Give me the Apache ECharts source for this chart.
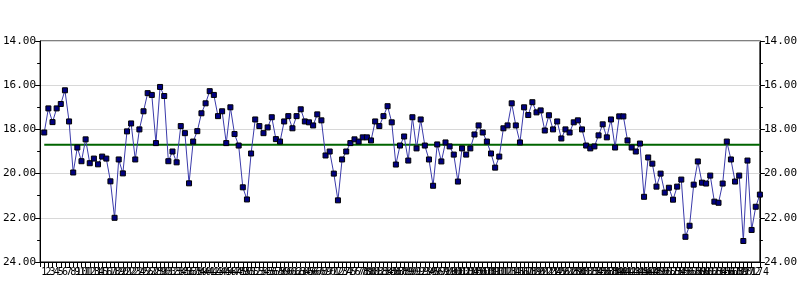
<!DOCTYPE html>
<html>
<head>
<meta charset="utf-8">
<script src="https://cdn.jsdelivr.net/npm/echarts@6/dist/echarts.min.js"></script>
<style>html,body{margin:0;padding:0;background:#fff}#c{width:800px;height:300px}</style>
</head>
<body>
<div id="c"></div>
<script>
const values = [
18.14,17.05,17.67,17.05,16.85,16.23,17.64,19.95,18.82,19.44,
18.45,19.53,19.32,19.58,19.23,19.32,20.35,22.0,19.36,19.99,
18.09,17.73,19.36,18.0,17.18,16.36,16.44,18.62,16.08,16.49,
19.44,19.0,19.49,17.85,18.17,20.44,18.55,18.08,17.27,16.82,
16.27,16.44,17.4,17.18,18.62,17.0,18.21,18.73,20.62,21.17,
19.09,17.55,17.85,18.17,17.91,17.45,18.44,18.55,17.64,17.4,
17.95,17.4,17.09,17.64,17.68,17.82,17.32,17.59,19.18,19.0,
20.0,21.21,19.36,19.0,18.62,18.45,18.55,18.36,18.36,18.5,
17.64,17.85,17.4,16.95,17.68,19.59,18.73,18.32,19.41,17.45,
18.86,17.55,18.73,19.36,20.55,18.68,19.45,18.59,18.77,19.14,
20.36,18.86,19.14,18.86,18.23,17.82,18.14,18.55,19.09,19.73,
19.23,17.95,17.82,16.82,17.82,18.59,17.0,17.35,16.77,17.23,
17.14,18.05,17.36,18.0,17.64,18.41,18.0,18.14,17.68,17.59,
18.0,18.73,18.86,18.77,18.27,17.77,18.36,17.55,18.82,17.41,
17.41,18.5,18.82,19.0,18.64,21.05,19.27,19.55,20.59,20.0,
20.86,20.64,21.18,20.59,20.27,22.86,22.36,20.5,19.45,20.41,
20.45,20.09,21.27,21.32,20.45,18.55,19.36,20.36,20.09,23.05,
19.41,22.55,21.5,20.95
];
const categories = values.map((v, i) => i + 1);
const centerLine = 18.7;
const yMin = 14, yMax = 24, yStep = 2;

const seriesData = categories.map((c, i) => [c, values[i]]);
const centerData = [[categories[0], centerLine], [categories[categories.length - 1], centerLine]];

const font = 'DejaVu Sans Mono';
const yAxisBase = {
  type: 'value', inverse: true, min: yMin, max: yMax, interval: yStep,
  axisLine: { show: true, lineStyle: { color: '#000', width: 1 } },
  axisTick: { show: true, length: 5, lineStyle: { color: '#000' } },
  minorTick: { show: true, splitNumber: 2, length: 3, lineStyle: { color: '#000' } },
  axisLabel: { color: '#000', fontFamily: font, fontSize: 11, margin: 4, formatter: v => v.toFixed(2) },
};
const chart = echarts.init(document.getElementById('c'), null, { renderer: 'canvas' });
chart.setOption({
  animation: false,
  grid: { left: 40, right: 40, top: 41, bottom: 38, show: true, borderColor: '#000', borderWidth: 1 },
  xAxis: {
    type: 'value', min: 0, max: categories.length, interval: 1,
    axisLine: { show: true, onZero: false, lineStyle: { color: '#000' } },
    axisTick: { show: true, length: 5, lineStyle: { color: '#000' } },
    axisLabel: { color: '#000', fontFamily: font, fontSize: 10, margin: 5,
      showMinLabel: true, showMaxLabel: true, hideOverlap: false,
      formatter: v => v === 0 ? '' : String(v) },
    splitLine: { show: false }
  },
  yAxis: [
    Object.assign({}, yAxisBase, { position: 'left', splitLine: { show: true, lineStyle: { color: '#d8d8d8' } } }),
    Object.assign({}, yAxisBase, { position: 'right', splitLine: { show: false } })
  ],
  series: [
    {
      type: 'line', data: centerData, symbol: 'none', z: 1,
      lineStyle: { color: '#006400', width: 2 }
    },
    {
      type: 'line', data: seriesData, z: 2,
      symbol: 'rect', symbolSize: 5,
      itemStyle: { color: '#000080', borderColor: '#000', borderWidth: 1 },
      lineStyle: { color: '#3a3aaa', width: 1 }
    }
  ]
});
</script>
</body>
</html>
